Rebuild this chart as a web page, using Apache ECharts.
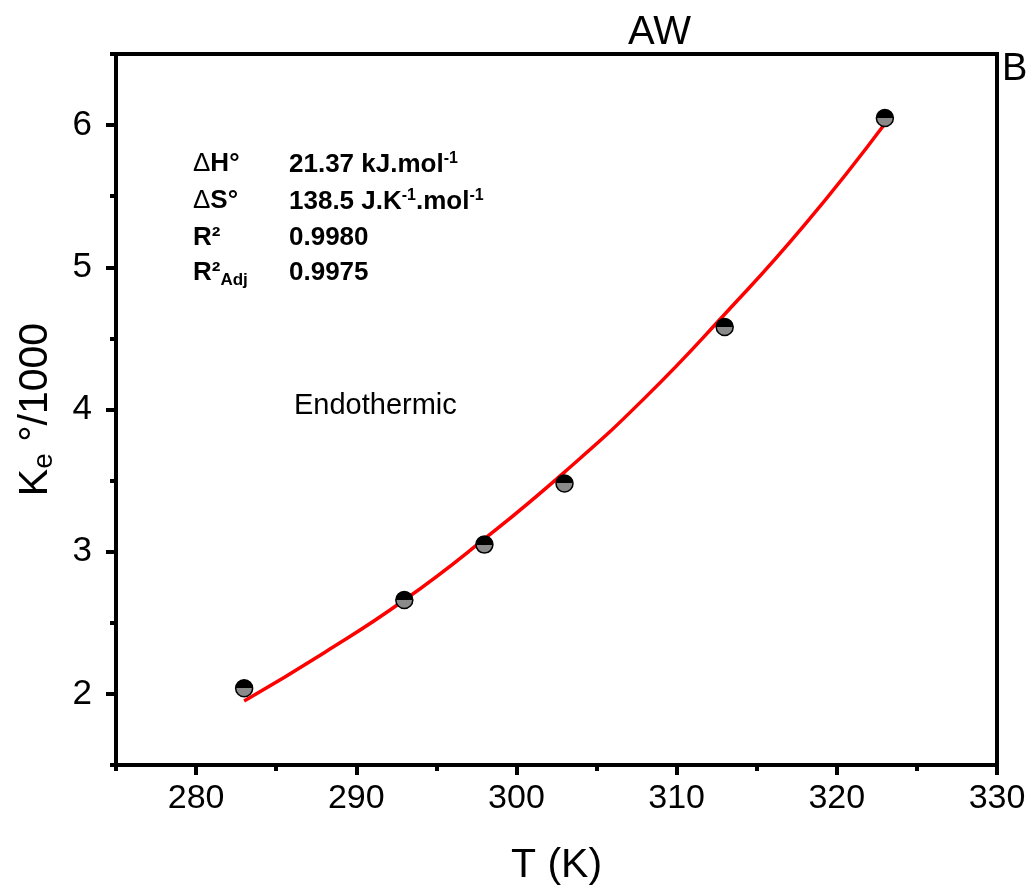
<!DOCTYPE html>
<html>
<head>
<meta charset="utf-8">
<script src="https://cdn.jsdelivr.net/npm/echarts@6/dist/echarts.min.js"></script>
<style>
  html, body { margin: 0; padding: 0; background: #fff; }
  #chart { width: 1033px; height: 894px; }
</style>
</head>
<body>
<div id="chart"></div>
<script>
// Equilibrium constant vs temperature (van't Hoff), adsorbent AW
const temperatures = [283, 293, 298, 303, 313, 323];
const keValues = [2.04, 2.66, 3.05, 3.48, 4.58, 6.05];

// Fitted curve, sampled along the temperature range
const fitTemperatures = [283, 288, 293, 298, 303, 308, 313, 318, 323];
const fitValues = [1.95, 2.29, 2.66, 3.09, 3.56, 4.08, 4.67, 5.30, 6.01];

const xMajorTicks = [280, 290, 300, 310, 320, 330];
const xMinorTicks = [275, 285, 295, 305, 315, 325];
const yMajorTicks = [2, 3, 4, 5, 6];
const yMinorTicks = [1.5, 2.5, 3.5, 4.5, 5.5, 6.5];

const FONT = '"Liberation Sans", Arial, sans-serif';

const chart = echarts.init(document.getElementById('chart'), null, { renderer: 'canvas' });

const pointFill = {
  type: 'linear', x: 0, y: 0, x2: 0, y2: 1,
  colorStops: [
    { offset: 0, color: '#000' },
    { offset: 0.5, color: '#000' },
    { offset: 0.5, color: '#8a8a8a' },
    { offset: 1, color: '#8a8a8a' }
  ]
};

const boldRich = {
  b: { fontFamily: FONT, fontWeight: 'bold', fontSize: 26, color: '#000' },
  d: { fontFamily: FONT, fontWeight: 'normal', fontSize: 26, color: '#000' },
  sup: { fontFamily: FONT, fontWeight: 'bold', fontSize: 16, color: '#000', padding: [0, 0, 12, 0] },
  sub: { fontFamily: FONT, fontWeight: 'bold', fontSize: 17, color: '#000', padding: [15, 0, 0, 0] }
};

function rowText(x, y, text) {
  return {
    type: 'text', left: x, top: y,
    style: { text: text, rich: boldRich, verticalAlign: 'middle', align: 'left' }
  };
}

const tableRows = [
  ['{d|Δ}{b|H°}', '{b|21.37 kJ.mol}{sup|-1}'],
  ['{d|Δ}{b|S°}', '{b|138.5 J.K}{sup|-1}{b|.mol}{sup|-1}'],
  ['{b|R²}', '{b|0.9980}'],
  ['{b|R²}{sub|Adj}', '{b|0.9975}']
];
const rowY = [151, 188, 225, 260];

const graphics = [];
tableRows.forEach((r, i) => {
  graphics.push(rowText(193, rowY[i], r[0]));
  graphics.push(rowText(289, rowY[i], r[1]));
});
graphics.push({
  type: 'text', left: 294, top: 391,
  style: { text: 'Endothermic', fontFamily: FONT, fontSize: 29, fill: '#000' }
});
graphics.push({
  type: 'text', left: 628, top: 13,
  style: { text: 'AW', fontFamily: FONT, fontSize: 40, fill: '#000' }
});
graphics.push({
  type: 'text', left: 1002, top: 51,
  style: { text: 'B', fontFamily: FONT, fontSize: 38, fill: '#000' }
});

const axisLine = { show: true, lineStyle: { color: '#000', width: 4 } };

chart.setOption({
  backgroundColor: '#fff',
  animation: false,
  grid: {
    left: 116, right: 36, top: 54, bottom: 129,
    show: true, borderColor: '#000', borderWidth: 4, backgroundColor: 'transparent'
  },
  xAxis: [
    {
      type: 'value', min: 275, max: 330, position: 'bottom',
      name: 'T (K)', nameLocation: 'middle', nameGap: 80,
      nameTextStyle: { fontFamily: FONT, fontSize: 41, color: '#000' },
      axisLine: axisLine,
      axisTick: { show: true, length: 10, customValues: xMajorTicks, lineStyle: { color: '#000', width: 4 } },
      axisLabel: { customValues: xMajorTicks, margin: 17, fontFamily: FONT, fontSize: 34, color: '#000' },
      splitLine: { show: false }
    },
    {
      type: 'value', min: 275, max: 330, position: 'bottom',
      axisLine: { show: false },
      axisTick: { show: true, length: 6, customValues: xMinorTicks, lineStyle: { color: '#000', width: 4 } },
      axisLabel: { show: false },
      splitLine: { show: false }
    }
  ],
  yAxis: [
    {
      type: 'value', min: 1.5, max: 6.5, position: 'left',
      name: '{k|K}{s|e}{k| °/1000}', nameLocation: 'middle', nameGap: 58, nameRotate: 90,
      nameTextStyle: {
        rich: {
          k: { fontFamily: FONT, fontSize: 41, color: '#000' },
          s: { fontFamily: FONT, fontSize: 28, color: '#000', padding: [16, 0, 0, 0] }
        }
      },
      axisLine: axisLine,
      axisTick: { show: true, length: 10, customValues: yMajorTicks, lineStyle: { color: '#000', width: 4 } },
      axisLabel: { customValues: yMajorTicks, margin: 24, fontFamily: FONT, fontSize: 35, color: '#000' },
      splitLine: { show: false }
    },
    {
      type: 'value', min: 1.5, max: 6.5, position: 'left',
      axisLine: { show: false },
      axisTick: { show: true, length: 6, customValues: yMinorTicks, lineStyle: { color: '#000', width: 4 } },
      axisLabel: { show: false },
      splitLine: { show: false }
    }
  ],
  graphic: graphics,
  series: [
    {
      type: 'line',
      data: fitTemperatures.map((t, i) => [t, fitValues[i]]),
      smooth: true,
      showSymbol: false,
      lineStyle: { color: '#ff0000', width: 3.5 },
      z: 2
    },
    {
      type: 'scatter',
      data: temperatures.map((t, i) => [t, keValues[i]]),
      symbol: 'circle',
      symbolSize: 17,
      itemStyle: { color: pointFill, borderColor: '#000', borderWidth: 1.5, opacity: 1 },
      z: 3
    }
  ]
});
</script>
</body>
</html>
